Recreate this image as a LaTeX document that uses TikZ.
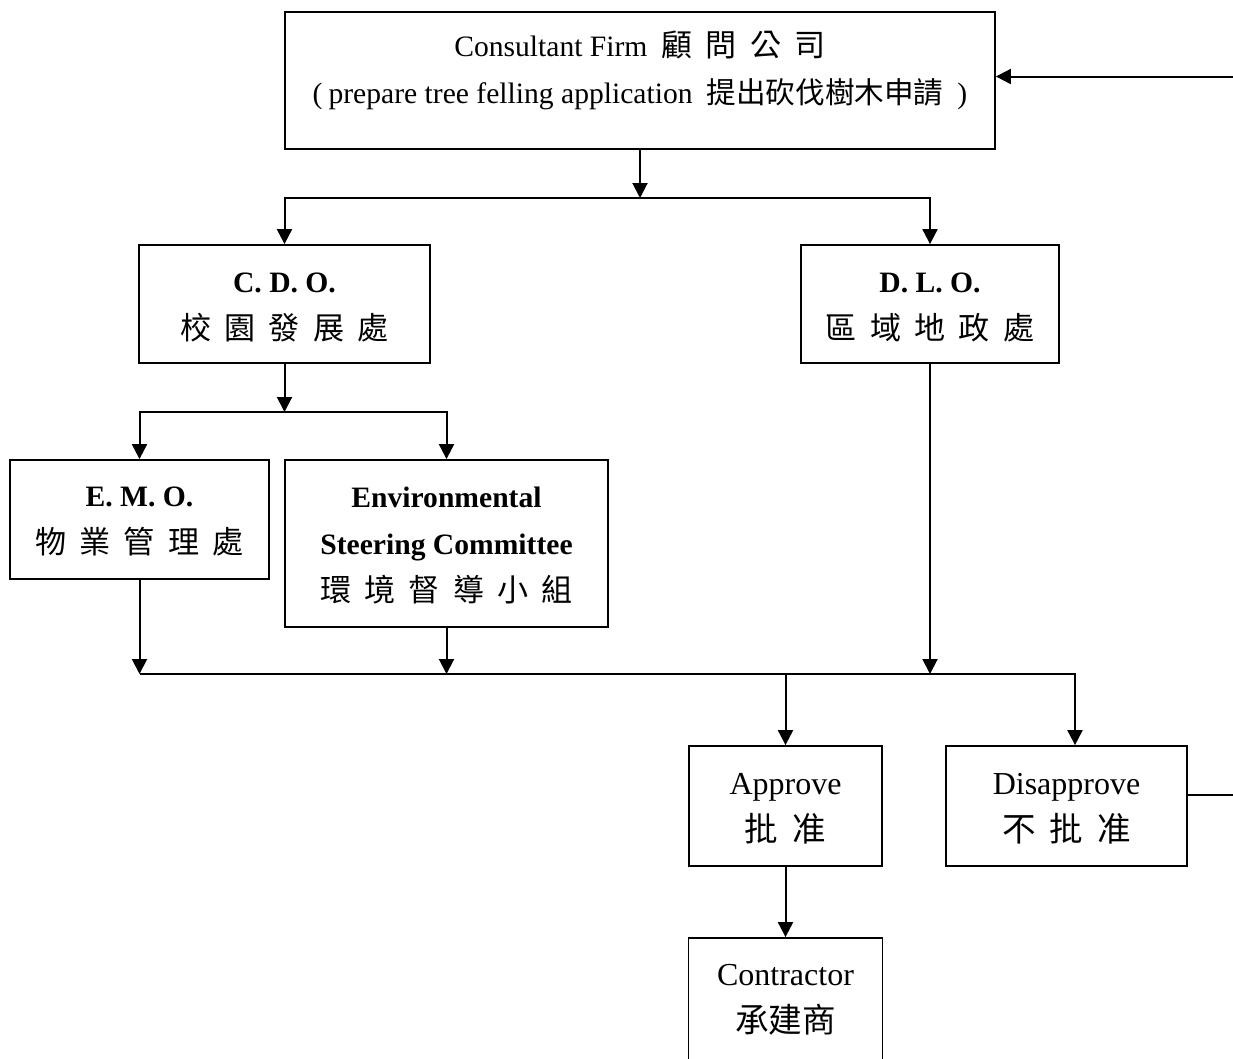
\documentclass[tikz,border=0pt]{standalone}
\usepackage{fontspec}
\setmainfont{Liberation Serif}
\newfontfamily\cjk[Scale=1.05]{Noto Sans CJK TC}
\newfontfamily\cjks{Noto Sans CJK TC}
\usetikzlibrary{arrows.meta}
\newcommand\cg{\hspace{13.3pt}}
\newcommand\cga{\hspace{14pt}}
\begin{document}
\begin{tikzpicture}[x=1pt,y=-1pt,
  box/.style={draw, line width=1.8pt, inner sep=0pt},
  txt/.style={inner sep=0pt, align=center, font=\fontsize{29.6}{47}\selectfont},
  bigtxt/.style={txt, font=\fontsize{32}{47}\selectfont},
  arr/.style={line width=2pt, -{Triangle[length=15pt,width=15pt]}},
  ln/.style={line width=2pt}]
\clip (0,0) rectangle (1233,1058);
\fill[white] (0,0) rectangle (1233,1058);
% boxes
\node[box, minimum width=710pt, minimum height=137pt] (cf) at (640,80.5) {};
\node[box, minimum width=291pt, minimum height=118pt] (cdo) at (284.5,304) {};
\node[box, minimum width=258pt, minimum height=118pt] (dlo) at (930,304) {};
\node[box, minimum width=259pt, minimum height=119pt] (emo) at (139.5,519.5) {};
\node[box, minimum width=323pt, minimum height=167pt] (esc) at (446.5,543.5) {};
\node[box, minimum width=193pt, minimum height=120pt] (app) at (785.5,806) {};
\node[box, minimum width=241pt, minimum height=120pt] (dis) at (1066.5,806) {};
\node[box, minimum width=194pt, minimum height=130pt] (ctr) at (785.5,1003) {};
% texts
\node[txt] (cft) at (640,70.5) {Consultant Firm\hspace{14pt}{\cjk 顧\cg 問\cg 公\cg 司}\\(\hspace{6pt}prepare tree felling application\hspace{14pt}{\cjks 提出砍伐樹木申請}\hspace{14pt})};
\node[txt] (cdot) at (284.5,307) {\textbf{C. D. O.}\\{\cjk 校\cg 園\cg 發\cg 展\cg 處}};
\node[txt] (dlot) at (930,307) {\textbf{D. L. O.}\\{\cjk 區\cg 域\cg 地\cg 政\cg 處}};
\node[txt] (emot) at (139.5,521) {\textbf{E. M. O.}\\{\cjk 物\cg 業\cg 管\cg 理\cg 處}};
\node[txt] (esct) at (446.5,545.5) {\textbf{Environmental}\\\textbf{Steering Committee}\\{\cjk 環\cg 境\cg 督\cg 導\cg 小\cg 組}};
\node[bigtxt] (appt) at (785.5,808.5) {Approve\\{\cjk 批\cga 准}};
\node[bigtxt] (dist) at (1066.5,808.5) {Disapprove\\{\cjk 不\cga 批\cga 准}};
\node[bigtxt] (ctrt) at (785.5,999.5) {Contractor\\{\cjk 承建商}};
% junctions
\coordinate (j1) at (640,198);
\coordinate (j2) at (284.5,412);
\coordinate (k1) at (785.5,674);
\coordinate (k2) at (1075,674);
\coordinate (fb) at (1240,76.5);
\coordinate (fb2) at (1240,795);
% connectors
\draw[arr] (cf.south) -- (j1);
\draw[arr] (j1) -| (cdo.north);
\draw[arr] (j1) -| (dlo.north);
\draw[arr] (cdo.south) -- (j2);
\draw[arr] (j2) -| (emo.north);
\draw[arr] (j2) -| (esc.north);
\draw[arr] (emo.south) -- (emo.south |- k1);
\draw[arr] (esc.south) -- (esc.south |- k1);
\draw[arr] (dlo.south) -- (dlo.south |- k1);
\draw[arr] (emo.south |- k1) -| (k2 |- dis.north);
\draw[arr] (k1) -- (app.north);
\draw[arr] (app.south) -- (ctr.north);
\draw[arr] (fb) -- (cf.east |- fb);
\draw[line width=1.2pt] (fb2 -| dis.east) -- (fb2);
\end{tikzpicture}
\end{document}
